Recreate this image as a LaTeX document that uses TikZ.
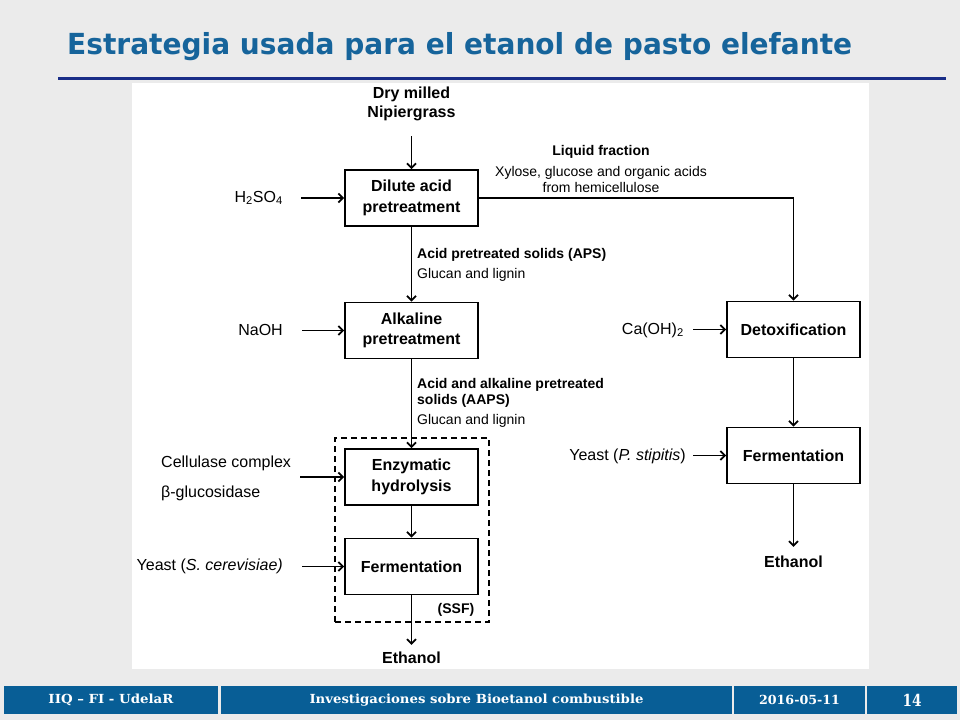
\documentclass[tikz,border=0pt]{standalone}
\usepackage{graphicx}
\usepackage{fontspec}
\setmainfont{Liberation Sans}
\newfontfamily\slidefont{DejaVu Sans}
\newfontfamily\footfont{DejaVu Serif}
\usetikzlibrary{arrows.meta}
\definecolor{slidegray}{RGB}{235,235,235}
\definecolor{titleblue}{RGB}{22,100,155}
\definecolor{rulenavy}{RGB}{25,45,135}
\definecolor{footblue}{RGB}{8,94,150}
\begin{document}
\begin{tikzpicture}[x=1pt,y=-1pt,
    box/.style={draw,line width=1.8pt,minimum width=133pt,minimum height=56pt,inner sep=0pt,align=center,font=\fontsize{16}{20.5}\selectfont\bfseries},
    ssfbox/.style={draw,line width=1.6pt,dash pattern=on 6pt off 4pt,minimum width=154pt,minimum height=184pt,inner sep=0pt},
    lab/.style={inner sep=0pt,font=\fontsize{16}{19}\selectfont},
    labb/.style={inner sep=0pt,font=\fontsize{16}{19}\selectfont\bfseries},
    flow/.style={inner sep=0pt,font=\fontsize{14}{16}\selectfont},
    flowb/.style={inner sep=0pt,font=\fontsize{14}{16}\selectfont\bfseries},
    cell/.style={fill=footblue,minimum height=28pt,inner sep=0pt,text=white,font=\footfont\bfseries\fontsize{12.5}{12.5}\selectfont},
    arr/.style={line width=1.8pt,-{Straight Barb[length=4.5pt,width=9pt]}}]
  \fill[slidegray] (0,0) rectangle (960,720);
  \fill[white] (132,83) rectangle (869,669);
  \node[anchor=base west,text=titleblue,inner sep=0pt,font=\slidefont\bfseries\fontsize{29}{29}\selectfont] (title) at (67,54)
    {\resizebox{785pt}{\height}{Estrategia usada para el etanol de pasto elefante}};
  \draw[rulenavy,line width=3pt] (58,78) -- (946,78);
  \path
    (412,530) node[ssfbox] (ssf) {}
    (411.5,198) node[box] (dil) {Dilute acid\\pretreatment}
    (411.5,330.5) node[box] (alk) {Alkaline\\pretreatment}
    (411.5,477) node[box] (enz) {Enzymatic\\hydrolysis}
    (411.5,566.5) node[box] (ferm) {Fermentation}
    (793.5,329.5) node[box] (detox) {Detoxification}
    (793.5,455.5) node[box] (fermr) {Fermentation}
    (411.5,104) node[labb,align=center] (feed) {Dry milled\\Nipiergrass}
    (411.5,658) node[labb] (etl) {Ethanol}
    (793.5,562) node[labb] (etr) {Ethanol}
    (283,198) node[lab,anchor=east] (acid) {H\textsubscript{2}SO\textsubscript{4}}
    (283,330) node[lab,anchor=east] (naoh) {NaOH}
    (161,478) node[lab,anchor=west,align=left,font=\fontsize{16}{30}\selectfont] (enzymes) {Cellulase complex\\β-glucosidase}
    (283,566) node[lab,anchor=east] (yeastl) {Yeast (\textit{S. cerevisiae)}}
    (684,330) node[lab,anchor=east] (lime) {Ca(OH)\textsubscript{2}}
    (686,456) node[lab,anchor=east] (yeastr) {Yeast (\textit{P. stipitis})}
    (601,155) node[flowb,anchor=base] (liq) {Liquid fraction}
    (601,176) node[flow,anchor=base] (sugars) {Xylose, glucose and organic acids}
    (601,192) node[flow,anchor=base] (hemi) {from hemicellulose}
    (417,258) node[flowb,anchor=base west] (aps) {Acid pretreated solids (APS)}
    (417,278) node[flow,anchor=base west] (apsc) {Glucan and lignin}
    (417,388) node[flowb,anchor=base west] (aaps) {Acid and alkaline pretreated}
    (417,404) node[flowb,anchor=base west] (aapsb) {solids (AAPS)}
    (417,424) node[flow,anchor=base west] (aapsc) {Glucan and lignin}
    (456,613) node[flowb,anchor=base] (ssflab) {(SSF)};
  \begin{scope}[arr]
    \draw[shorten <=15pt] (feed) to (dil);
    \draw[shorten <=18pt] (dil.west -| acid.east) to (dil.west);
    \draw (dil) to (alk);
    \draw (dil.east) -| (detox.north);
    \draw[shorten <=19pt] (alk.west -| naoh.east) to (alk.west);
    \draw (alk) to (enz);
    \draw[shorten <=9pt] (enz.west -| enzymes.east) to (enz.west);
    \draw (enz) to (ferm);
    \draw[shorten <=19pt] (ferm.west -| yeastl.east) to (ferm.west);
    \draw[shorten >=7pt] (ferm) to (etl);
    \draw[shorten <=9pt] (detox.west -| lime.east) to (detox.west);
    \draw (detox) to (fermr);
    \draw[shorten <=7pt] (fermr.west -| yeastr.east) to (fermr.west);
    \draw[shorten >=9pt] (fermr) to (etr);
  \end{scope}
  \path
    (111,700) node[cell,minimum width=214pt] (org) {\resizebox{125pt}{\height}{IIQ – FI - UdelaR}}
    (476.5,700) node[cell,minimum width=511pt] (talk) {\resizebox{334pt}{\height}{Investigaciones sobre Bioetanol combustible}}
    (799.5,700) node[cell,minimum width=131pt] (date) {\resizebox{81pt}{\height}{2016-05-11}}
    (912,700) node[cell,minimum width=90pt,font=\footfont\bfseries\fontsize{16.5}{16.5}\selectfont] (page) {\resizebox{19pt}{\height}{14}};
\end{tikzpicture}
\end{document}
